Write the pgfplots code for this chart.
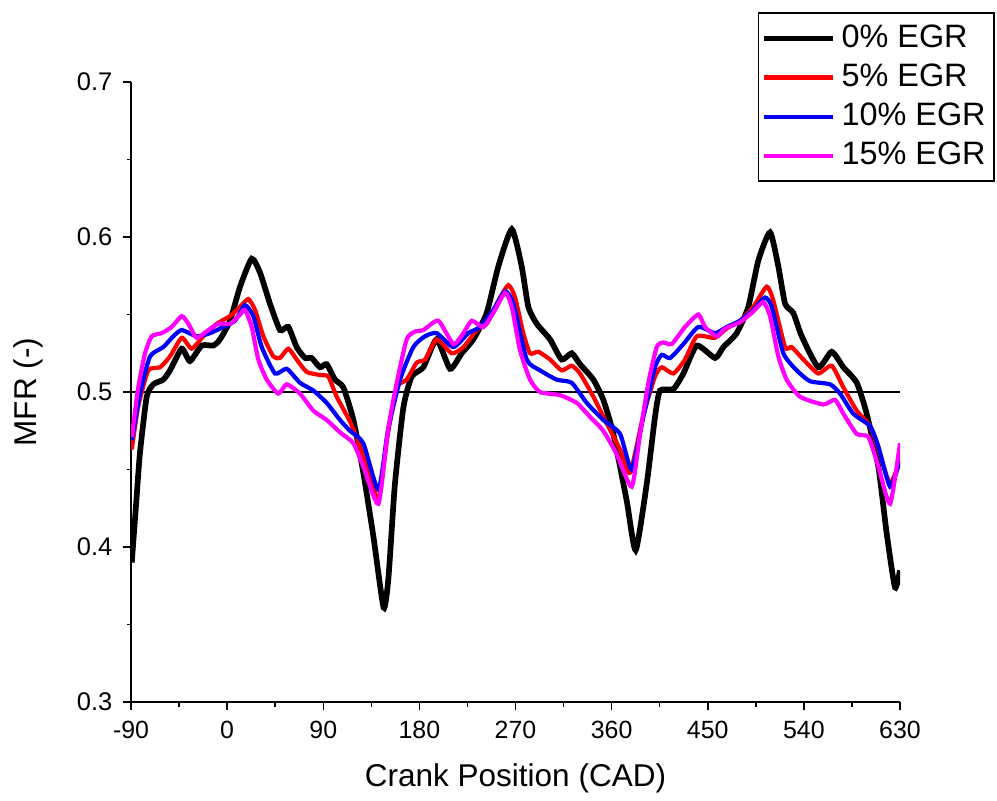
\documentclass[border=0pt]{standalone}
\usepackage{fontspec}
\setmainfont{Liberation Sans}
\usepackage{pgfplots}
\pgfplotsset{compat=1.18}
\definecolor{pink15}{RGB}{255,0,255}

\begin{document}
\begin{tikzpicture}
\begin{axis}[
  width=256.3pt, height=206.7pt, scale only axis,
  xmin=-90, xmax=630, ymin=0.3, ymax=0.7,
  axis lines=left,
  axis line style={-, line width=0.5pt},
  xtick={-90,0,90,180,270,360,450,540,630},
  ytick={0.3,0.4,0.5,0.6,0.7},
  minor x tick num=1, minor y tick num=1,
  tick align=outside,
  major tick length=2.7pt, minor tick length=1.5pt,
  tick style={black, line width=0.5pt},
  /pgf/number format/assume math mode=true,
  yticklabel style={/pgf/number format/fixed, /pgf/number format/precision=1,
    /pgf/number format/fixed zerofill, font=\fontsize{8.5}{10}\selectfont},
  xticklabel style={font=\fontsize{8.3}{10}\selectfont},
  xlabel={Crank Position (CAD)},
  ylabel={MFR (-)},
  label style={font=\fontsize{10.5}{12}\selectfont},
  xlabel style={at={(axis description cs:0.5,-0.1226)}, anchor=center},
  ylabel style={at={(axis description cs:-0.134,0.5)}, anchor=center},
  legend style={at={(axis description cs:1.1235,1.113)}, anchor=north east, draw=black,
    line width=0.6pt, font=\fontsize{10.8}{12}\selectfont,
    row sep=0pt, inner xsep=0.8pt, inner ysep=2pt,
    nodes={inner xsep=2pt}},
  legend cell align=left,
  legend image code/.code={\draw[#1] (0pt,0pt) -- (23pt,0pt);},
]

\coordinate (sw) at (rel axis cs:0,0);
\coordinate (ne) at (rel axis cs:1,1);

\addplot[black, line width=0.5pt, forget plot] coordinates {(-90,0.5) (630,0.5)};

% 0% EGR
\addplot[black, line width=1.9pt, smooth, tension=0.35] coordinates {
(-89.3,0.390) (-85,0.43) (-81.6,0.461) (-75.3,0.497) (-69.1,0.505) (-59.8,0.508)
(-53.5,0.514) (-42.5,0.528) (-34.8,0.520) (-23.8,0.530) (-13,0.530) (-6.7,0.534)
(2.7,0.546) (12.1,0.568) (23,0.586) (30.8,0.577) (40.1,0.557) (49.5,0.540)
(57.3,0.542) (65.1,0.529) (72.9,0.522) (79,0.522) (87,0.516) (93.2,0.518)
(101,0.508) (108.8,0.503) (118.2,0.482) (127.5,0.448) (136.9,0.407) (146.5,0.361)
(151,0.38) (157,0.44) (165,0.49) (172.8,0.510) (183.7,0.516) (196.2,0.534)
(208.7,0.515) (219.6,0.525) (230.5,0.534) (243,0.551) (253.9,0.581) (266.5,0.605)
(275.8,0.581) (282,0.555) (289.9,0.544) (302.3,0.534) (313.2,0.521) (322.6,0.525)
(330.4,0.518) (342.9,0.508) (352.2,0.495) (361.6,0.473) (374.1,0.430) (382.5,0.398)
(392.9,0.441) (400.6,0.484) (405.3,0.501) (417.8,0.502) (427.2,0.512) (439.7,0.530)
(456.8,0.522) (464.6,0.529) (477.1,0.538) (488,0.555) (497.4,0.585) (508.3,0.603)
(516.1,0.581) (522.4,0.557) (530.1,0.551) (538,0.536) (553.5,0.516) (566,0.526)
(577,0.516) (589.5,0.506) (598.8,0.486) (609.7,0.452) (617.5,0.409) (625.3,0.374)
(630,0.385)
};
\addlegendentry{0\% EGR}

% 5% EGR
\addplot[red, line width=1.4pt, smooth, tension=0.35] coordinates {
(-89.3,0.463) (-83.2,0.491) (-73.8,0.514) (-62.8,0.516) (-53.5,0.523) (-42.5,0.535)
(-33.2,0.528) (-22.3,0.536) (-9.8,0.544) (2.7,0.549) (12.1,0.555) (19.8,0.560)
(26.1,0.553) (33.9,0.536) (43.2,0.523) (49.5,0.522) (57.3,0.528) (65.1,0.521)
(74.5,0.513) (87,0.511) (94.7,0.510) (102.6,0.497) (115,0.481) (124.4,0.465)
(136.9,0.439) (142,0.430) (150.5,0.473) (158.8,0.503) (168.1,0.508) (177.5,0.519)
(185.3,0.521) (196.2,0.534) (210.3,0.525) (221.2,0.529) (233.7,0.540) (243,0.544)
(253.9,0.559) (263.3,0.569) (269.6,0.561) (277.3,0.538) (283.6,0.525) (291.4,0.526)
(302.3,0.521) (313.2,0.514) (322.6,0.517) (330.4,0.512) (342.9,0.497) (355.3,0.480)
(367.9,0.463) (377.2,0.448) (389.7,0.485) (400.6,0.510) (406.9,0.516) (417.8,0.512)
(428.7,0.521) (439.7,0.536) (456.8,0.535) (467.7,0.541) (480.2,0.546) (492.7,0.555)
(505.2,0.568) (511.4,0.559) (522.4,0.529) (528.6,0.529) (539.5,0.521) (553.5,0.512)
(566,0.517) (577,0.503) (589.5,0.488) (602,0.478) (611.3,0.460) (620.7,0.441)
(630,0.456)
};
\addlegendentry{5\% EGR}

% 10% EGR
\addplot[blue, line width=1.4pt, smooth, tension=0.35] coordinates {
(-89.3,0.469) (-81.6,0.499) (-72.2,0.523) (-59.8,0.529) (-50.4,0.536) (-42.5,0.540)
(-28.5,0.536) (-16,0.538) (-3.6,0.542) (7.3,0.546) (16.7,0.556) (24.5,0.549)
(32.4,0.529) (44.8,0.512) (55.8,0.515) (68.2,0.506) (80.7,0.501) (93.2,0.493)
(105.7,0.482) (115,0.475) (127.5,0.467) (141.6,0.437) (150.5,0.475) (161.9,0.508)
(174.3,0.529) (185.3,0.536) (196.2,0.538) (211.8,0.529) (225.8,0.538) (236.8,0.542)
(249.2,0.553) (260.2,0.565) (268,0.557) (280.5,0.521) (293,0.514) (308.6,0.508)
(322.6,0.506) (336.7,0.493) (352.2,0.482) (367.9,0.473) (378.8,0.450) (389.7,0.484)
(400.6,0.516) (406.9,0.524) (414.7,0.522) (427.2,0.531) (441.2,0.542) (456.8,0.538)
(467.7,0.542) (480.2,0.546) (492.7,0.553) (503.6,0.561) (509.9,0.555) (520.8,0.525)
(533.3,0.514) (545.8,0.507) (564.5,0.505) (573.9,0.499) (586.3,0.486) (602,0.478)
(609.7,0.465) (620.7,0.439) (630,0.456)
};
\addlegendentry{10\% EGR}

% 15% EGR
\addplot[pink15, line width=1.4pt, smooth, tension=0.35] coordinates {
(-89.3,0.471) (-83.2,0.503) (-76.9,0.525) (-70.6,0.536) (-61.3,0.538) (-51.9,0.542)
(-42.5,0.549) (-36.3,0.544) (-28.5,0.535) (-17.6,0.540) (-8.3,0.544) (2.7,0.544)
(12.1,0.550) (16.7,0.553) (23,0.542) (29.2,0.521) (37.1,0.508) (47.9,0.499)
(55.8,0.505) (68.2,0.499) (80.7,0.488) (93.2,0.482) (105.7,0.474) (118.2,0.467)
(127.5,0.452) (141.6,0.428) (150.5,0.475) (158.8,0.506) (168.1,0.534) (175.9,0.539)
(183.7,0.540) (197.7,0.546) (211.8,0.531) (221.2,0.538) (229,0.546) (239.9,0.542)
(249.2,0.551) (260.2,0.564) (266.5,0.555) (274.2,0.527) (283.6,0.508) (293,0.500)
(311.7,0.498) (327.3,0.493) (339.8,0.484) (352.2,0.475) (364.7,0.460) (378.8,0.439)
(386.6,0.473) (394.4,0.506) (402.2,0.529) (408.4,0.532) (416.3,0.531) (428.7,0.542)
(441.2,0.550) (447.4,0.542) (458.4,0.536) (466.1,0.541) (480.2,0.545) (492.7,0.552)
(502,0.558) (508.3,0.549) (516.1,0.523) (523.9,0.508) (536.4,0.497) (558.2,0.492)
(569.2,0.495) (577,0.486) (589.5,0.473) (600.4,0.471) (609.7,0.452) (620.7,0.428)
(630,0.467)
};
\addlegendentry{15\% EGR}

\end{axis}
\pgfresetboundingbox
\path[use as bounding box] ([shift={(-43.67pt,-32.67pt)}]sw) rectangle ([shift={(32.33pt,27.33pt)}]ne);
\end{tikzpicture}
\end{document}
